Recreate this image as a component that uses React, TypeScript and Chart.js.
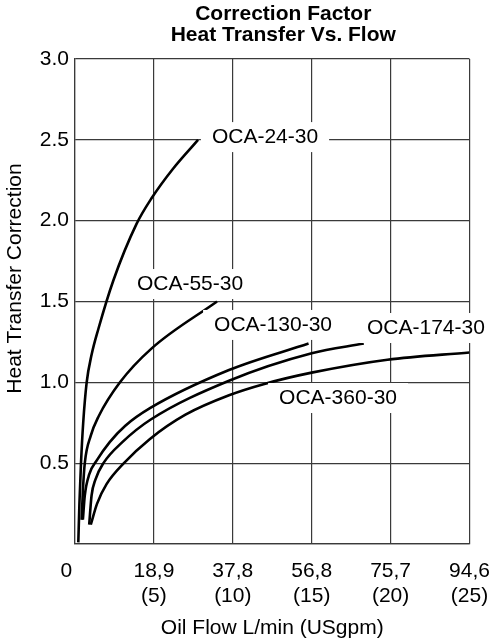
import React, { useEffect, useRef } from 'react';
import { Chart, registerables } from 'chart.js';

Chart.register(...registerables);

const FONT = "'Liberation Sans', Arial, Helvetica, sans-serif";
const GRID = '#3a3a3a';

const titleLines = ['Correction Factor', 'Heat Transfer Vs. Flow'];
const xAxisTitle = 'Oil Flow L/min (USgpm)';
const yAxisTitle = 'Heat Transfer Correction';

// x ticks in USgpm with L/min labels
const xTickValues = [0, 5, 10, 15, 20, 25];
const xTickLitres = ['0', '18,9', '37,8', '56,8', '75,7', '94,6'];
const xTickGpm = ['', '(5)', '(10)', '(15)', '(20)', '(25)'];

// curves: flow (USgpm) and correction factor
const oca24Flow = [0.21, 0.28, 0.38, 0.52, 0.74, 1.05, 1.48, 2.43, 3.9, 4.86, 6.2, 7.8];
const oca24Corr = [0.01, 0.25, 0.5, 0.75, 1.0, 1.17, 1.33, 1.63, 1.98, 2.14, 2.32, 2.5];

const oca55Flow = [0.42, 0.5, 0.62, 1.0, 1.5, 2.85, 4.86, 9.0];
const oca55Corr = [0.15, 0.33, 0.5, 0.67, 0.79, 1.0, 1.21, 1.5];

const oca130Flow = [0.5, 0.62, 0.9, 1.4, 2.2, 3.17, 4.75, 9.76, 14.8];
const oca130Corr = [0.15, 0.3, 0.43, 0.52, 0.63, 0.73, 0.84, 1.076, 1.24];

const oca174Flow = [0.9, 1.05, 1.3, 1.8, 3.0, 4.8, 9.76, 15.0, 18.3];
const oca174Corr = [0.12, 0.3, 0.4, 0.5, 0.63, 0.77, 1.01, 1.18, 1.24];

const oca360Flow = [1.0, 1.4, 2.0, 3.1, 4.75, 7.0, 9.76, 12.0, 15.0, 19.8, 25.0];
const oca360Corr = [0.12, 0.25, 0.37, 0.5, 0.65, 0.8, 0.92, 0.99, 1.06, 1.14, 1.185];

const seriesNames = ['OCA-24-30', 'OCA-55-30', 'OCA-130-30', 'OCA-174-30', 'OCA-360-30'];
const seriesFlows = [oca24Flow, oca55Flow, oca130Flow, oca174Flow, oca360Flow];
const seriesCorrs = [oca24Corr, oca55Corr, oca130Corr, oca174Corr, oca360Corr];

// label anchor positions (data units)
const labelFlow = [12.04, 7.29, 12.55, 22.24, 16.67];
const labelCorr = [2.517, 1.608, 1.355, 1.336, 0.903];

const labelPlugin = {
  id: 'curveLabels',
  afterDatasetsDraw(chart: any) {
    const { ctx, scales, chartArea } = chart;
    const xs = scales.x;
    const ys = scales.y;
    ctx.save();
    ctx.textAlign = 'center';
    ctx.textBaseline = 'middle';
    ctx.font = `21px ${FONT}`;
    seriesNames.forEach((name, i) => {
      const cx = xs.getPixelForValue(labelFlow[i]);
      const cy = ys.getPixelForValue(labelCorr[i]);
      const w = ctx.measureText(name).width + 22;
      const h = 30;
      ctx.fillStyle = '#ffffff';
      ctx.fillRect(cx - w / 2, cy - h / 2, w, h);
      ctx.fillStyle = '#000000';
      ctx.fillText(name, cx, cy);
    });
    // y axis title
    ctx.save();
    ctx.translate(15.5, (chartArea.top + chartArea.bottom) / 2 - 23);
    ctx.rotate(-Math.PI / 2);
    ctx.fillText(yAxisTitle, 0, 0);
    ctx.restore();
    // chart title
    ctx.font = `bold 21px ${FONT}`;
    const tx = (chartArea.left + chartArea.right) / 2 + 11;
    ctx.fillText(titleLines[0], tx, chartArea.top - 45);
    ctx.fillText(titleLines[1], tx, chartArea.top - 24);
    ctx.restore();
  },
};

export default function App() {
  const ref = useRef<HTMLCanvasElement | null>(null);

  useEffect(() => {
    if (!ref.current) return;
    const datasets = seriesNames.map((name, i) => ({
      label: name,
      data: seriesFlows[i].map((f, j) => ({ x: f, y: seriesCorrs[i][j] })),
      borderColor: '#000000',
      backgroundColor: '#000000',
      borderWidth: 2.6,
      pointRadius: 0,
      fill: false,
      cubicInterpolationMode: 'monotone' as const,
    }));

    const chart = new Chart(ref.current, {
      type: 'line',
      data: { datasets },
      plugins: [labelPlugin],
      options: {
        animation: false,
        responsive: false,
        maintainAspectRatio: false,
        layout: { padding: { top: 59, right: 24.5, bottom: 0, left: 0 } },
        plugins: {
          legend: { display: false },
          title: { display: false },
          tooltip: { enabled: false },
        },
        scales: {
          x: {
            type: 'linear',
            min: 0,
            max: 25,
            afterBuildTicks: (s: any) => {
              s.ticks = xTickValues.map((v) => ({ value: v }));
            },
            grid: { color: GRID, lineWidth: 1.2, drawTicks: false },
            border: { color: GRID, width: 1.2 },
            ticks: {
              padding: 15.6,
              color: '#000',
              autoSkip: false,
              maxRotation: 0,
              font: { family: FONT, size: 21, lineHeight: 1.15 },
              callback: (v: any) => {
                const idx = xTickValues.indexOf(Number(v));
                if (idx < 0) return '';
                if (idx === 0) return xTickLitres[0] + '   ';
                return [xTickLitres[idx], xTickGpm[idx]];
              },
            },
            title: {
              display: true,
              text: xAxisTitle,
              color: '#000',
              font: { family: FONT, size: 21, lineHeight: 1.2 },
              padding: { top: 0, bottom: 3.5 },
            },
            afterFit: (s: any) => {
              s.height = 100;
              s.paddingLeft = 0;
              s.paddingRight = 0;
            },
          },
          y: {
            type: 'linear',
            min: 0,
            max: 3,
            grid: { color: GRID, lineWidth: 1.2, drawTicks: false },
            border: { color: GRID, width: 1.2 },
            ticks: {
              stepSize: 0.5,
              padding: 6,
              color: '#000',
              font: { family: FONT, size: 21 },
              callback: (v: any) => (Number(v) === 0 ? '' : Number(v).toFixed(1)),
            },
            title: { display: false },
            afterFit: (s: any) => {
              s.width = 75;
              s.paddingTop = 0;
              s.paddingBottom = 0;
            },
          },
        },
      } as any,
    });
    return () => chart.destroy();
  }, []);

  return (
    <div style={{ position: 'absolute', left: 0, top: 0, width: 494, height: 644, background: '#fff' }}>
      <canvas ref={ref} width={494} height={644} style={{ display: 'block' }} />
    </div>
  );
}
